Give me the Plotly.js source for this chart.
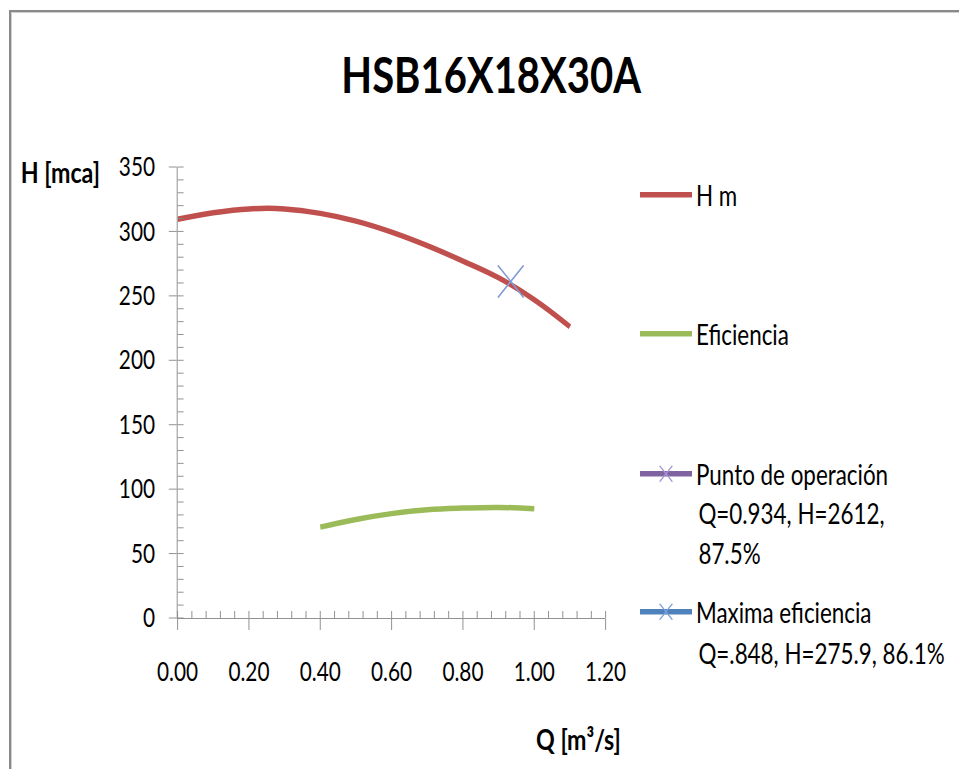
<!DOCTYPE html>
<html>
<head>
<meta charset="utf-8">
<script src="https://cdn.plot.ly/plotly-3.0.1.min.js"></script>
<style>
  html, body { margin: 0; padding: 0; background: #ffffff; overflow: hidden; }
  #frame {
    position: absolute; left: 9px; top: 10px; width: 1200px; height: 1000px;
    border-top: 2px solid #8a8a8a; border-left: 2px solid #8a8a8a;
    box-shadow: inset 1px 1px 0 #cfcfcf; pointer-events: none; z-index: 2;
  }
  /* the chart is laid out wide, then squeezed horizontally */
  #chart { position: absolute; left: 0; top: 0; width: 1199px; height: 769px;
           transform: scaleX(0.8); transform-origin: 0 0; }
</style>
</head>
<body>
<div id="chart"></div>
<div id="frame"></div>
<script>
// Pump curve HSB16X18X30A
var qHead = [0, 0.1, 0.2, 0.3, 0.4, 0.5, 0.6, 0.7, 0.8, 0.9, 1.0, 1.1];
var head  = [309.5, 314.5, 317.5, 317.5, 314, 308, 299.5, 289, 277, 264, 247, 226];

var qEff = [0.4, 0.5, 0.6, 0.7, 0.8, 0.9, 1.0];
var eff  = [70.5, 76.5, 81, 84, 85.3, 85.8, 84.8];

// operating point marked on the head curve
var opQ = [0.934];
var opH = [261.2];

var xTicks = [0, 0.2, 0.4, 0.6, 0.8, 1.0, 1.2];
var xTickText = ['0.00', '0.20', '0.40', '0.60', '0.80', '1.00', '1.20'];
var yTicks = [0, 50, 100, 150, 200, 250, 300, 350];

var names = ['H m', 'Eficiencia', 'Punto de operación', 'Maxima eficiencia'];
var extraLines = [
  ['Q=0.934, H=2612,', '87.5%'],
  ['Q=.848, H=275.9, 86.1%']
];

// geometry (layout pixels, before the horizontal squeeze)
var W = 1199, H = 769;
var M = { l: 222, r: 442, t: 167, b: 151 };
var PW = W - M.l - M.r, PH = H - M.t - M.b;
function px(x) { return (x - M.l) / PW; }
function py(y) { return (H - M.b - y) / PH; }

var FONT = 'Lato, "Open Sans", sans-serif';
var AXIS_GREY = '#868686';
var C = { red: '#C0504D', green: '#9BBB59', purple: '#8064A2', blue: '#4F81BD' };
var LEGEND_SIZE = 28;

var traces = [
  { x: qHead, y: head, name: names[0], mode: 'lines', legend: 'legend',
    line: { color: C.red, width: 5.5, shape: 'spline', smoothing: 1.2 } },
  { x: qEff, y: eff, name: names[1], mode: 'lines', legend: 'legend2',
    line: { color: C.green, width: 5.5, shape: 'spline', smoothing: 1.2 } },
  { x: opQ, y: opH, name: names[2], mode: 'lines+markers', legend: 'legend3',
    line: { color: C.purple, width: 5.5 },
    marker: { symbol: 'x-thin-open', size: 32, color: '#a394d6', line: { width: 1.5, color: '#a394d6' } } },
  { x: opQ, y: opH, name: names[3], mode: 'lines+markers', legend: 'legend4',
    line: { color: C.blue, width: 5.5 },
    marker: { symbol: 'x-thin-open', size: 32, color: '#7e9fd8', line: { width: 1.5, color: '#7e9fd8' } } }
];

function legendAt(yc) {
  return {
    xref: 'container', yref: 'container', x: 795 / W, y: 1 - yc / H,
    xanchor: 'left', yanchor: 'middle', bgcolor: 'rgba(0,0,0,0)',
    font: { family: FONT, size: LEGEND_SIZE, color: '#000' }, itemwidth: 65
  };
}

var annotations = [
  { text: '<b>H [mca]</b>', xref: 'paper', yref: 'paper', x: px(75), y: py(171),
    showarrow: false, xanchor: 'center', yanchor: 'middle',
    font: { family: FONT, size: 29, color: '#000' } },
  { text: '<b>Q [m³/s]</b>', xref: 'paper', yref: 'paper', x: px(723), y: py(738),
    showarrow: false, xanchor: 'center', yanchor: 'middle',
    font: { family: FONT, size: 29, color: '#000' } }
];
// continuation lines of the two long legend labels
var contY = [[513, 553], [653]];
extraLines.forEach(function (lines, i) {
  lines.forEach(function (t, j) {
    annotations.push({ text: t, xref: 'paper', yref: 'paper', x: px(871), y: py(contY[i][j]),
      showarrow: false, xanchor: 'left', yanchor: 'middle',
      font: { family: FONT, size: LEGEND_SIZE, color: '#000' } });
  });
});

var layout = {
  width: W, height: H,
  margin: M,
  paper_bgcolor: 'rgba(0,0,0,0)', plot_bgcolor: 'rgba(0,0,0,0)',
  font: { family: FONT, color: '#000' },
  title: { text: '<b>HSB16X18X30A</b>', xref: 'container', yref: 'container',
           x: 614 / W, y: 1 - 76 / H, xanchor: 'center', yanchor: 'middle',
           font: { family: FONT, size: 50, color: '#000' } },
  xaxis: {
    range: [0, 1.2], tickvals: xTicks, ticktext: xTickText,
    showline: true, linecolor: AXIS_GREY, linewidth: 1, mirror: false,
    showgrid: false, zeroline: false,
    ticks: 'outside', ticklen: 11, tickcolor: AXIS_GREY, tickwidth: 1,
    minor: { ticks: 'inside', dtick: 0.04, tick0: 0, ticklen: 7, tickcolor: AXIS_GREY, tickwidth: 1, showgrid: false },
    ticklabelstandoff: 20,
    tickfont: { family: FONT, size: 26, color: '#000' }
  },
  yaxis: {
    range: [0, 350], tickvals: yTicks,
    showline: true, linecolor: AXIS_GREY, linewidth: 1,
    showgrid: false, zeroline: false,
    ticks: 'outside', ticklen: 10, tickcolor: AXIS_GREY, tickwidth: 1,
    minor: { ticks: 'inside', dtick: 10, tick0: 0, ticklen: 7.5, tickcolor: AXIS_GREY, tickwidth: 1, showgrid: false },
    ticklabelstandoff: 12,
    tickfont: { family: FONT, size: 26, color: '#000' }
  },
  // inner halves of the major ticks (major ticks cross the axis line)
  xaxis2: { overlaying: 'x', anchor: 'y', range: [0, 1.2], tickvals: xTicks,
            ticks: 'inside', ticklen: 7, tickcolor: AXIS_GREY, tickwidth: 1,
            showticklabels: false, showline: false, showgrid: false, zeroline: false },
  yaxis2: { overlaying: 'y', anchor: 'x', side: 'left', range: [0, 350], tickvals: yTicks,
            ticks: 'inside', ticklen: 7.5, tickcolor: AXIS_GREY, tickwidth: 1,
            showticklabels: false, showline: false, showgrid: false, zeroline: false },
  legend: legendAt(195),
  legend2: legendAt(334),
  legend3: legendAt(474),
  legend4: legendAt(612),
  annotations: annotations,
  showlegend: true
};

Plotly.newPlot('chart', traces, layout, { staticPlot: true, displayModeBar: false });
</script>
</body>
</html>
